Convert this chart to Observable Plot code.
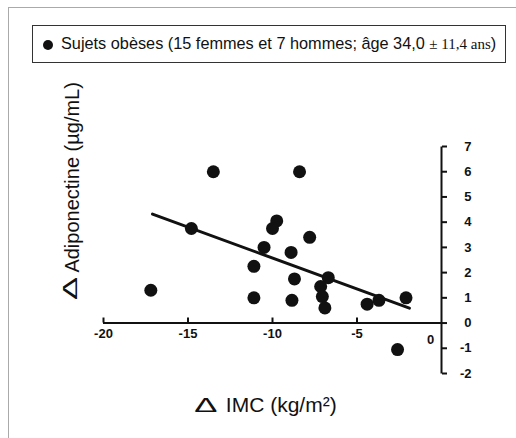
<!DOCTYPE html>
<html>
<head>
<meta charset="utf-8">
<script src="https://cdn.jsdelivr.net/npm/d3@7"></script>
<script src="https://cdn.jsdelivr.net/npm/@observablehq/plot@0.6"></script>
<style>
  html, body { margin: 0; padding: 0; background: #fff; }
  #wrap { position: relative; width: 516px; height: 438px; overflow: hidden; font-family: "Liberation Sans", Arial, sans-serif; }
  #frame { position: absolute; left: 8px; top: 7px; width: 520px; height: 440px; border-left: 1.5px solid #aaa; border-top: 1.5px solid #aaa; }
  #legend { position: absolute; left: 32px; top: 25px; width: 474px; height: 38px; border: 1px solid #333; box-sizing: border-box; background: #fff; }
  #legend .dot { position: absolute; left: 10px; top: 14px; width: 10px; height: 10px; border-radius: 50%; background: #111; }
  #legend .txt { position: absolute; left: 28px; top: 8px; font-size: 16.3px; color: #111; white-space: nowrap; }
  #legend .ser { font-family: "Liberation Serif", "Times New Roman", serif; font-size: 15px; }
  #chart { position: absolute; left: 0; top: 0; }
</style>
</head>
<body>
<div id="wrap">
  <div id="frame"></div>
  <div id="chart"></div>
  <div id="legend"><div class="dot"></div><div class="txt">Sujets obèses (15 femmes et 7 hommes; âge 34,0 <span class="ser">± 11,4 ans</span>)</div></div>
</div>
<script>
// Data
const deltaIMC = [-13.5, -8.4, -14.8, -9.75, -10.0, -7.8, -10.5, -8.9, -11.1, -8.7, -6.7, -7.15, -7.05, -17.2, -11.1, -8.85, -6.9, -4.4, -3.7, -2.1, -2.6];
const deltaAdipo = [6.0, 6.0, 3.75, 4.05, 3.75, 3.4, 3.0, 2.8, 2.25, 1.75, 1.8, 1.45, 1.05, 1.3, 1.0, 0.9, 0.6, 0.75, 0.9, 1.0, -1.05];
const fitX = [-17.1, -1.9];
const fitY = [4.32, 0.59];
const xTicks = [-20, -15, -10, -5, 0];
const yTicks = [-2, -1, 0, 1, 2, 3, 4, 5, 6, 7];
const xTitle = "IMC (kg/m²)";
const yTitle = "Adiponectine (µg/mL)";
const deltaSign = "Δ";

const points = deltaIMC.map((x, i) => ({x, y: deltaAdipo[i]}));
const fit = fitX.map((x, i) => ({x, y: fitY[i]}));
const xTicksInner = xTicks.filter(d => d !== 0);
const xTicksZero = xTicks.filter(d => d === 0);
const yAxisLine = [d3.min(yTicks), d3.max(yTicks)].map(y => ({x: 0, y}));
const ink = "#111";

const chart = Plot.plot({
  width: 516,
  height: 438,
  marginLeft: 103,
  marginRight: 75,
  marginTop: 146,
  marginBottom: 65,
  x: {domain: [-20, 0], axis: null},
  y: {domain: [-2, 7], axis: null},
  style: {fontFamily: "Liberation Sans, Arial, sans-serif", color: ink, background: "transparent"},
  marks: [
    // x axis along y = 0
    Plot.ruleY([0], {x1: -20, x2: 0, stroke: ink, strokeWidth: 2}),
    Plot.ruleX(xTicksInner, {x: d => d, y1: 0, y2: 0.2, stroke: ink, strokeWidth: 2}),
    Plot.text(xTicksInner, {x: d => d, y: 0, dy: 11, text: d => String(d), fontSize: 13, fontWeight: "bold", fill: ink}),
    Plot.text(xTicksZero, {x: d => d, y: 0, dy: 17, dx: -11, text: d => String(d), fontSize: 13, fontWeight: "bold", fill: ink}),
    // y axis along x = 0 (right edge of the frame)
    Plot.axisY(yTicks, {anchor: "right", tickSize: 5, tickFormat: () => "", label: null, stroke: ink, strokeWidth: 2}),
    Plot.line(yAxisLine, {x: "x", y: "y", stroke: ink, strokeWidth: 2, strokeLinecap: "butt"}),
    Plot.text(yTicks, {x: 0, y: d => d, dx: 30, textAnchor: "end", text: d => String(d), fontSize: 13, fontWeight: "bold", fill: ink}),
    // regression line
    Plot.line(fit, {x: "x", y: "y", stroke: ink, strokeWidth: 3}),
    // points
    Plot.dot(points, {x: "x", y: "y", r: 6.5, fill: ink, stroke: "none"}),
    // x axis title
    Plot.text([deltaSign], {x: -13.95, y: -2, dy: 38, lineAnchor: "bottom", textAnchor: "middle", text: d => d, fontSize: 21, fill: ink}),
    Plot.text([xTitle], {x: -12.76, y: -2, dy: 38, lineAnchor: "bottom", textAnchor: "start", text: d => d, fontSize: 21, fill: ink}),
    // y axis title
    Plot.text([deltaSign], {x: -20, y: 1.37, dx: -27, lineAnchor: "bottom", textAnchor: "middle", rotate: -90, text: d => d, fontSize: 21, fill: ink}),
    Plot.text([yTitle], {x: -20, y: 2.0, dx: -25, lineAnchor: "bottom", textAnchor: "start", rotate: -90, text: d => d, fontSize: 20, fill: ink})
  ]
});

// Widen the delta glyphs, as in the reference
d3.select(chart).selectAll("text").filter(function() { return this.textContent === deltaSign; }).each(function() {
  const t = this.getAttribute("transform");
  if (t) {
    this.setAttribute("transform", t + " scale(1.65,1)");
  } else {
    const x = +this.getAttribute("x") || 0, y = +this.getAttribute("y") || 0;
    this.setAttribute("x", 0); this.setAttribute("y", 0);
    this.setAttribute("transform", `translate(${x},${y}) scale(1.65,1)`);
  }
});
document.getElementById("chart").appendChild(chart);
</script>
</body>
</html>
